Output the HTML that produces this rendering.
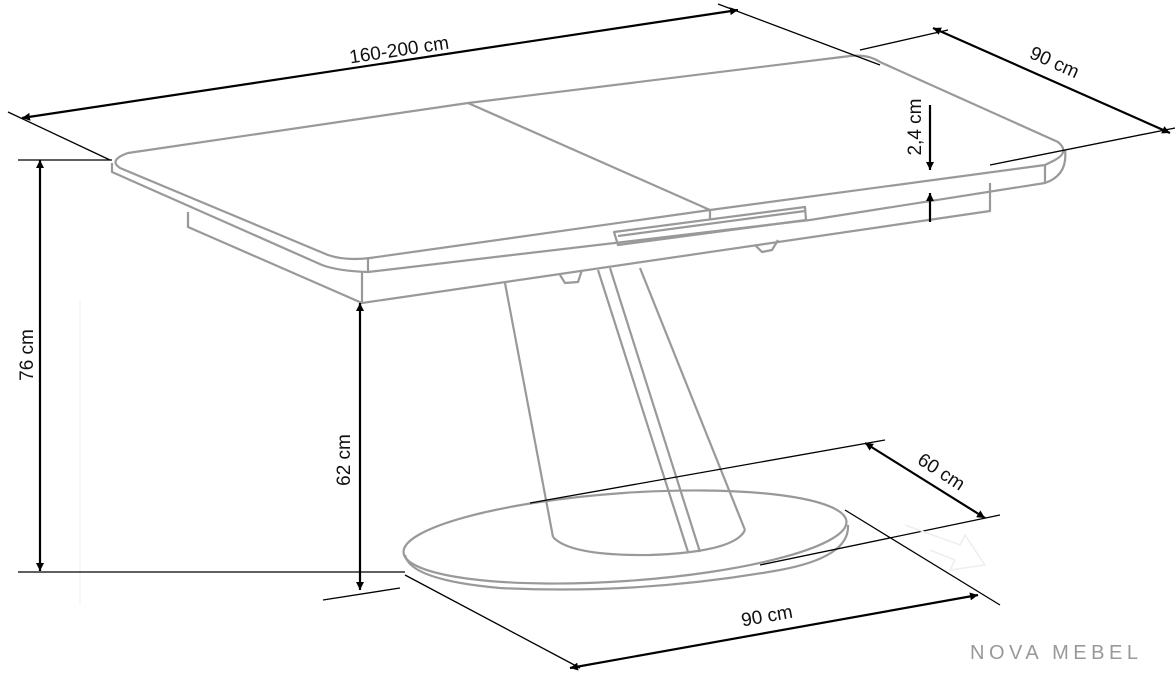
<!DOCTYPE html>
<html><head><meta charset="utf-8"><style>
html,body{margin:0;padding:0;background:#fff}
svg{display:block}
text{font-family:"Liberation Sans",sans-serif;font-size:19px;fill:#111}
</style></head><body>
<svg width="1176" height="681" viewBox="0 0 1176 681" xmlns="http://www.w3.org/2000/svg">
<defs>
<marker id="a" viewBox="0 0 10 10" refX="10" refY="5" markerWidth="8" markerHeight="8" orient="auto-start-reverse" markerUnits="userSpaceOnUse"><path d="M0,0 L10,5 L0,10 z" fill="#000"/></marker>
</defs>
<line x1="80" y1="300" x2="80" y2="605" stroke="#f2f2f2" stroke-width="1"/>
<g fill="none" stroke="#999" stroke-width="2.2" stroke-linejoin="round">
<path d="M128,153 L468,103 L850,56 Q868,54 880,62 L1058,142 Q1070,152 1055,160 L1045,165 L710,210 L370,258 Q345,261 328,255 L120,168 Q108,160 128,153 Z"/>
<path d="M468,103 L710,210 L710,220"/>
<path d="M112,163 L112,172 L322,265 Q338,271 368,272 L810,220 L1045,183 Q1068,175 1065,150"/>
<path d="M368,258 L368,272 M1045,165 L1045,183"/>
<path d="M614,232 L805,207 L806,220 L618,245 Z"/>
<path d="M618,236 L805,211"/>
<path d="M188,212 L188,227 L362,303 L990,211 L990,183"/>
<path d="M362,272 L362,303"/>
<path d="M560,275 L565,283 L578,282 L582,270"/>
<path d="M755,245 L762,252 L772,250 L778,240"/>
<path d="M505,283 L553,537"/>
<path d="M640,268 L745,530"/>
<path d="M598,270 L688,552"/>
<path d="M610,268 L700,552"/>
<path d="M553,537 Q570,556 650,555 Q735,552 745,530"/>
<ellipse cx="625" cy="537" rx="222" ry="44" transform="rotate(-4 625 537)"/>
<path d="M405,555 Q410,580 500,588 Q640,595 780,570 Q850,557 848,525"/>
</g>
<g stroke="#000" stroke-width="1.3" fill="none">
<line x1="8" y1="112" x2="110" y2="160"/>
<line x1="718" y1="4" x2="880" y2="65"/>
<line x1="860" y1="50" x2="948" y2="30"/>
<line x1="990" y1="165" x2="1175" y2="128"/>
<line x1="18" y1="160" x2="112" y2="160"/>
<line x1="18" y1="572" x2="405" y2="572"/>
<line x1="323" y1="600" x2="400" y2="588"/>
<line x1="530" y1="503" x2="885" y2="440"/>
<line x1="760" y1="565" x2="1000" y2="515"/>
<line x1="405" y1="575" x2="580" y2="668"/>
<line x1="845" y1="510" x2="1000" y2="605"/>
</g>
<g stroke="#000" stroke-width="2.2" fill="none">
<line x1="22" y1="118" x2="738" y2="10" marker-start="url(#a)" marker-end="url(#a)"/>
<line x1="933" y1="28" x2="1170" y2="133" marker-start="url(#a)" marker-end="url(#a)"/>
<line x1="930" y1="105" x2="930" y2="170" marker-end="url(#a)"/>
<line x1="930" y1="222" x2="930" y2="193" marker-end="url(#a)"/>
<line x1="40" y1="160" x2="40" y2="571" marker-start="url(#a)" marker-end="url(#a)"/>
<line x1="360" y1="303" x2="360" y2="590" marker-start="url(#a)" marker-end="url(#a)"/>
<line x1="865" y1="443" x2="985" y2="518" marker-start="url(#a)" marker-end="url(#a)"/>
<line x1="570" y1="668" x2="978" y2="595" marker-start="url(#a)" marker-end="url(#a)"/>
</g>
<text transform="translate(400,56) rotate(-8.6)" text-anchor="middle">160-200 cm</text>
<text transform="translate(1052,68) rotate(24)" text-anchor="middle">90 cm</text>
<text transform="translate(921,127) rotate(-90)" text-anchor="middle">2,4 cm</text>
<text transform="translate(33,355) rotate(-90)" text-anchor="middle">76 cm</text>
<text transform="translate(350,460) rotate(-90)" text-anchor="middle">62 cm</text>
<text transform="translate(938,477) rotate(33)" text-anchor="middle">60 cm</text>
<text transform="translate(768,622) rotate(-10)" text-anchor="middle">90 cm</text>
<text x="970" y="659" style="font-size:20px;fill:#999;letter-spacing:4.5px">NOVA MEBEL</text>
<g stroke="#eee" stroke-width="1.5" fill="none"><path d="M905,525 L960,545 L965,535 L985,565 L950,570 L955,560 L930,550"/></g>
</svg>
</body></html>
